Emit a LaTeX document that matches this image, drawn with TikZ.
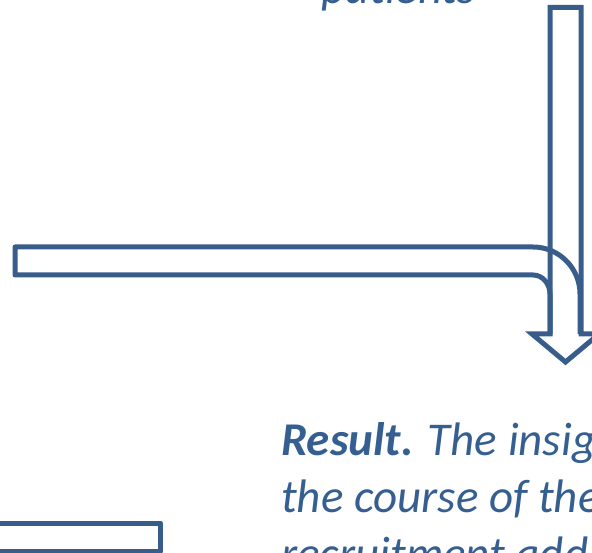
\documentclass[tikz,border=0pt]{standalone}
\usepackage{fontspec}
\setmainfont{Carlito}
\definecolor{arrowblue}{RGB}{56,93,138}
\definecolor{textblue}{RGB}{54,95,145}
\tikzset{
  blockarrow/.style={draw=arrowblue, line width=5pt, line join=miter},
  blockbar/.style={draw=arrowblue, line width=5pt, line join=round},
  bodytext/.style={anchor=base west, inner sep=0pt, font=\fontsize{47}{57}\selectfont\itshape, color=textblue}
}
\begin{document}
\begin{tikzpicture}[x=1pt,y=1pt,yscale=-1,xscale=1]
\useasboundingbox (0,0) rectangle (592,553);
\clip (0,0) rectangle (592,553);

%Shape: Down Arrow
\draw [blockarrow] (550,7.5) -- (550,334) -- (532,334) -- (565.5,362) -- (599,334) -- (581,334) -- (581,7.5) -- cycle ;
%Shape: Bent Arrow
\draw [blockbar] (580,334) -- (580,294) arc [start angle=0, end angle=-90, x radius=47, y radius=47] -- (15,247) -- (15,275) -- (533,275) arc [start angle=-90, end angle=0, x radius=17, y radius=19] -- (550,334) ;
%Shape: Rectangle
\draw [blockbar] (-20,523) -- (160.5,523) -- (160.5,551) -- (-20,551) ;

% Text Node
\draw (321,3.5) node [bodytext] (pat) {patients};
% Text Node
\draw (281,455) node [bodytext] (res1) {\textbf{Result.} The insig};
% Text Node
\draw (281,512) node [bodytext] (res2) {the course of the};
% Text Node
\draw (281,569) node [bodytext] (res3) {recruitment add};

\end{tikzpicture}
\end{document}
